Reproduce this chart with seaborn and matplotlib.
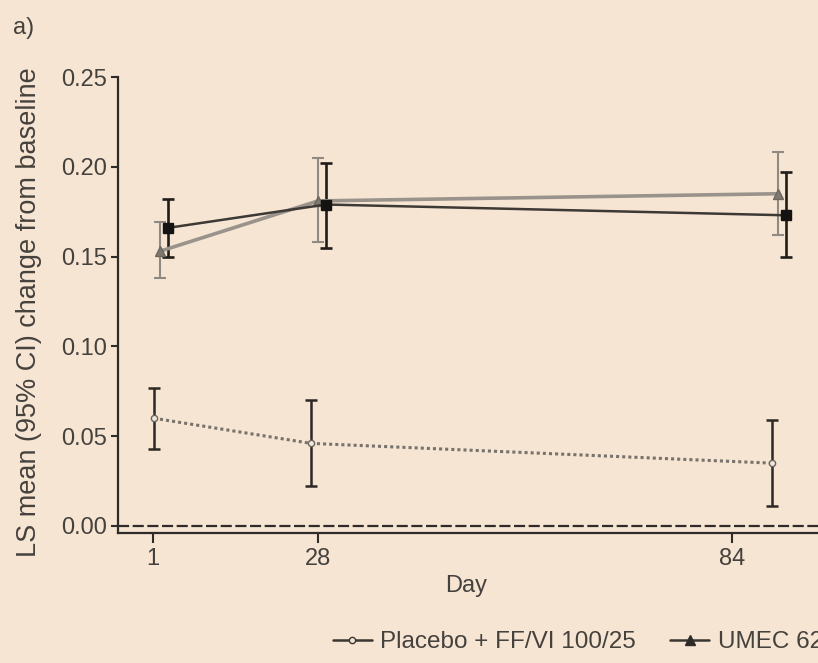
import numpy as np
import pandas as pd
import matplotlib
matplotlib.use("Agg")
import matplotlib.pyplot as plt
from matplotlib.lines import Line2D
import seaborn as sns

# Visit days labelled on the axis
tick_days = [1, 28, 84]
tick_labels = ["1", "28", "84"]

# Each arm: plotted day, LS mean and 95% CI bounds
placebo_day = [1.2, 26.9, 89.4]
placebo_mean = [0.060, 0.046, 0.035]
placebo_lo = [0.043, 0.022, 0.011]
placebo_hi = [0.077, 0.070, 0.059]

umec62_day = [2.2, 28.05, 90.2]
umec62_mean = [0.153, 0.181, 0.185]
umec62_lo = [0.138, 0.158, 0.162]
umec62_hi = [0.169, 0.205, 0.208]

umec125_day = [3.5, 29.1, 91.3]
umec125_mean = [0.166, 0.179, 0.173]
umec125_lo = [0.150, 0.155, 0.150]
umec125_hi = [0.182, 0.202, 0.197]

series_names = ["Placebo + FF/VI 100/25",
                "UMEC 62.5 + FF/VI 100/25",
                "UMEC 125 + FF/VI 100/25"]

BG = "#f6e5d2"
INK = "#2f2b28"
TXT = "#45413d"

sns.set_style("ticks", {"axes.facecolor": BG, "figure.facecolor": BG,
                        "axes.edgecolor": INK, "xtick.color": INK,
                        "ytick.color": INK})
plt.rcParams["font.family"] = ["Liberation Sans", "DejaVu Sans"]

# Piecewise-linear day axis (visit spacing widens after day 28)
knot_days = np.array(tick_days, float)
knot_pos = np.array([0.0, 165.0, 579.0])
s_lo = (knot_pos[1] - knot_pos[0]) / (knot_days[1] - knot_days[0])
s_hi = (knot_pos[2] - knot_pos[1]) / (knot_days[2] - knot_days[1])


def fwd(d):
    d = np.asarray(d, float)
    return np.where(d < knot_days[0], knot_pos[0] + (d - knot_days[0]) * s_lo,
                    np.where(d > knot_days[-1],
                             knot_pos[-1] + (d - knot_days[-1]) * s_hi,
                             np.interp(d, knot_days, knot_pos)))


def inv(p):
    p = np.asarray(p, float)
    return np.where(p < knot_pos[0], knot_days[0] + (p - knot_pos[0]) / s_lo,
                    np.where(p > knot_pos[-1],
                             knot_days[-1] + (p - knot_pos[-1]) / s_hi,
                             np.interp(p, knot_pos, knot_days)))


fig = plt.figure(figsize=(8.18, 6.63), dpi=100, facecolor=BG)
ax = fig.add_axes([118 / 818, 130 / 663, 716 / 818, 456 / 663])
ax.set_facecolor(BG)

arms = [
    dict(day=placebo_day, mean=placebo_mean, lo=placebo_lo, hi=placebo_hi,
         line="#77726c", ls=(0, (1, 1)), lw=2.2, marker="o", ms=4.5,
         mfc="#efe6dc", mec="#6a655f", ecolor="#2c2824", elw=1.8, cap=4.5),
    dict(day=umec62_day, mean=umec62_mean, lo=umec62_lo, hi=umec62_hi,
         line="#9a938b", ls="-", lw=2.6, marker="^", ms=7,
         mfc="#7f7870", mec="#6e6760", ecolor="#918a82", elw=1.5, cap=4.0),
    dict(day=umec125_day, mean=umec125_mean, lo=umec125_lo, hi=umec125_hi,
         line="#3d3935", ls="-", lw=1.8, marker="s", ms=7,
         mfc="#151311", mec="#151311", ecolor="#1f1c19", elw=1.9, cap=4.5),
]

for name, a in zip(series_names, arms):
    m = np.array(a["mean"])
    yerr = [m - np.array(a["lo"]), np.array(a["hi"]) - m]
    ax.errorbar(a["day"], m, yerr=yerr, fmt="none", ecolor=a["ecolor"],
                elinewidth=a["elw"], capsize=a["cap"], capthick=a["elw"],
                zorder=2)
    df = pd.DataFrame({"day": a["day"], "mean": a["mean"]})
    sns.lineplot(data=df, x="day", y="mean", ax=ax, color=a["line"],
                 linestyle=a["ls"], linewidth=a["lw"], marker=a["marker"],
                 markersize=a["ms"], markerfacecolor=a["mfc"],
                 markeredgecolor=a["mec"], markeredgewidth=1.0,
                 estimator=None, errorbar=None, sort=False, legend=False,
                 zorder=3)

ax.axhline(0, color=INK, lw=1.6, ls=(0, (5, 1.6)), zorder=1)

ax.set_xscale("function", functions=(fwd, inv))
ax.set_xlim(-4.68, 97.8)
ax.set_ylim(-0.0039, 0.25)
ax.set_xticks(tick_days)
ax.set_xticklabels(tick_labels)
ax.set_yticks([0.0, 0.05, 0.10, 0.15, 0.20, 0.25])
ax.set_yticklabels(["0.00", "0.05", "0.10", "0.15", "0.20", "0.25"])
ax.xaxis.set_minor_locator(matplotlib.ticker.NullLocator())

for side in ("top", "right"):
    ax.spines[side].set_visible(False)
for side in ("left", "bottom"):
    ax.spines[side].set_linewidth(1.6)
    ax.spines[side].set_color(INK)

ax.tick_params(axis="x", length=7, width=1.5, pad=4, labelsize=17,
               labelcolor=TXT)
ax.tick_params(axis="y", length=5, width=1.5, pad=3, labelsize=17,
               labelcolor=TXT)

ax.set_xlabel("Day", fontsize=17, color=TXT)
ax.xaxis.set_label_coords(0.486, -0.093)
ax.set_ylabel("LS mean (95% CI) change from baseline", fontsize=19.5,
              color=TXT)
ax.yaxis.set_label_coords(-0.106, 0.485)

fig.text(13 / 818, 1 - 28 / 663, "a)", fontsize=17, color=TXT,
         ha="left", va="center")

# Legend row runs off the right edge of the panel
handles = [
    Line2D([], [], color="#3a3632", lw=1.8, marker="o", ms=4.5,
           mfc="#efe6dc", mec="#3a3632"),
    Line2D([], [], color="#3a3632", lw=1.8, marker="^", ms=6.5,
           mfc="#2f2b28", mec="#2f2b28"),
]
leg = fig.legend(handles, series_names[:2], loc="center left",
                 bbox_to_anchor=(333 / 818, 1 - 642 / 663), ncol=2,
                 frameon=False, fontsize=17.5, handlelength=1.6,
                 handletextpad=0.35, columnspacing=1.4, borderaxespad=0,
                 borderpad=0)
for t in leg.get_texts():
    t.set_color(TXT)

fig.savefig("out.png", dpi=100, facecolor=BG)
